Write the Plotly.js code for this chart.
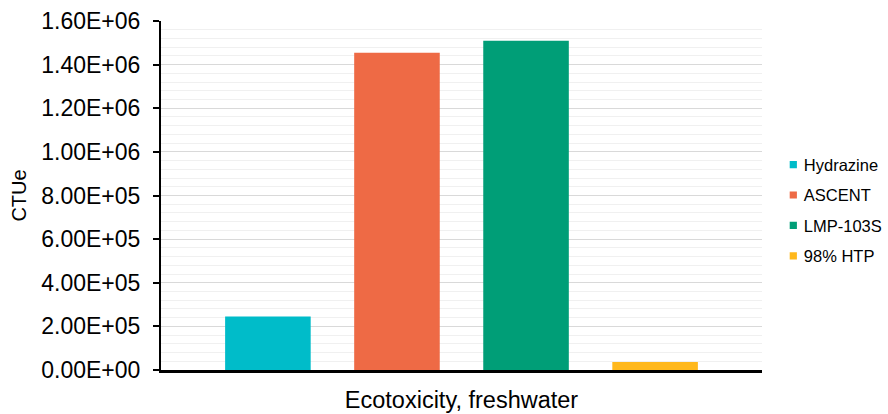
<!DOCTYPE html>
<html>
<head>
<meta charset="utf-8">
<script src="https://cdn.plot.ly/plotly-3.0.1.min.js"></script>
<style>html,body{margin:0;padding:0;background:#fff;}#chart{width:888px;height:414px;}</style>
</head>
<body>
<div id="chart"></div>
<script>
const category = ["Ecotoxicity, freshwater"];
const seriesNames = ["Hydrazine", "ASCENT", "LMP-103S", "98% HTP"];
const seriesValues = [245000, 1455000, 1510000, 37000];
const seriesColors = ["#00BCC9", "#EE6A45", "#009E77", "#FFB81C"];
const yTickVals = [0, 200000, 400000, 600000, 800000, 1000000, 1200000, 1400000, 1600000];
const yTickText = ["0.00E+00", "2.00E+05", "4.00E+05", "6.00E+05", "8.00E+05", "1.00E+06", "1.20E+06", "1.40E+06", "1.60E+06"];

const traces = seriesNames.map((n, i) => ({
  type: 'bar',
  name: n,
  x: category,
  y: [seriesValues[i]],
  legendgroup: 'g' + i,
  marker: {color: seriesColors[i]},
  hoverinfo: 'none'
}));

const layout = {
  width: 888, height: 414,
  margin: {l: 161, r: 126, t: 21, b: 43.5, pad: 0, autoexpand: false},
  paper_bgcolor: '#fff', plot_bgcolor: '#fff',
  font: {family: 'Liberation Sans, Arial, sans-serif', color: '#000', size: 23},
  barmode: 'group',
  bargap: 0.141,
  bargroupgap: 0.337,
  showlegend: true,
  legend: {
    x: 1.003, xanchor: 'left', y: 0.638, yanchor: 'top',
    font: {size: 16.5, color: '#000'},
    traceorder: 'grouped', tracegroupgap: 6,
    itemwidth: 30, bgcolor: 'rgba(0,0,0,0)'
  },
  xaxis: {
    type: 'category',
    showline: true, linecolor: '#000', linewidth: 2.5,
    ticks: '', showgrid: false, zeroline: false,
    ticklabelstandoff: 7,
    tickfont: {size: 23.5, color: '#000'},
    fixedrange: true
  },
  yaxis: {
    range: [0, 1600000],
    tickvals: yTickVals, ticktext: yTickText,
    showline: true, linecolor: '#000', linewidth: 2,
    ticks: 'outside', ticklen: 6, tickwidth: 2, tickcolor: '#000',
    ticklabelstandoff: 8,
    showgrid: true, gridcolor: '#d9d9d9', gridwidth: 1,
    minor: {dtick: 40000, showgrid: true, gridcolor: '#f0f0f0', gridwidth: 1, ticks: ''},
    zeroline: false,
    tickfont: {size: 23, color: '#000'},
    title: {text: 'CTUe', font: {size: 20, color: '#000'}, standoff: 9},
    fixedrange: true
  }
};

Plotly.newPlot('chart', traces, layout, {staticPlot: true, displayModeBar: false}).then(function (gd) {
  gd.querySelectorAll('.legend .legendpoints path').forEach(function (p) {
    p.setAttribute('transform', 'translate(29.5,0) scale(0.6)');
  });
});
</script>
</body>
</html>
